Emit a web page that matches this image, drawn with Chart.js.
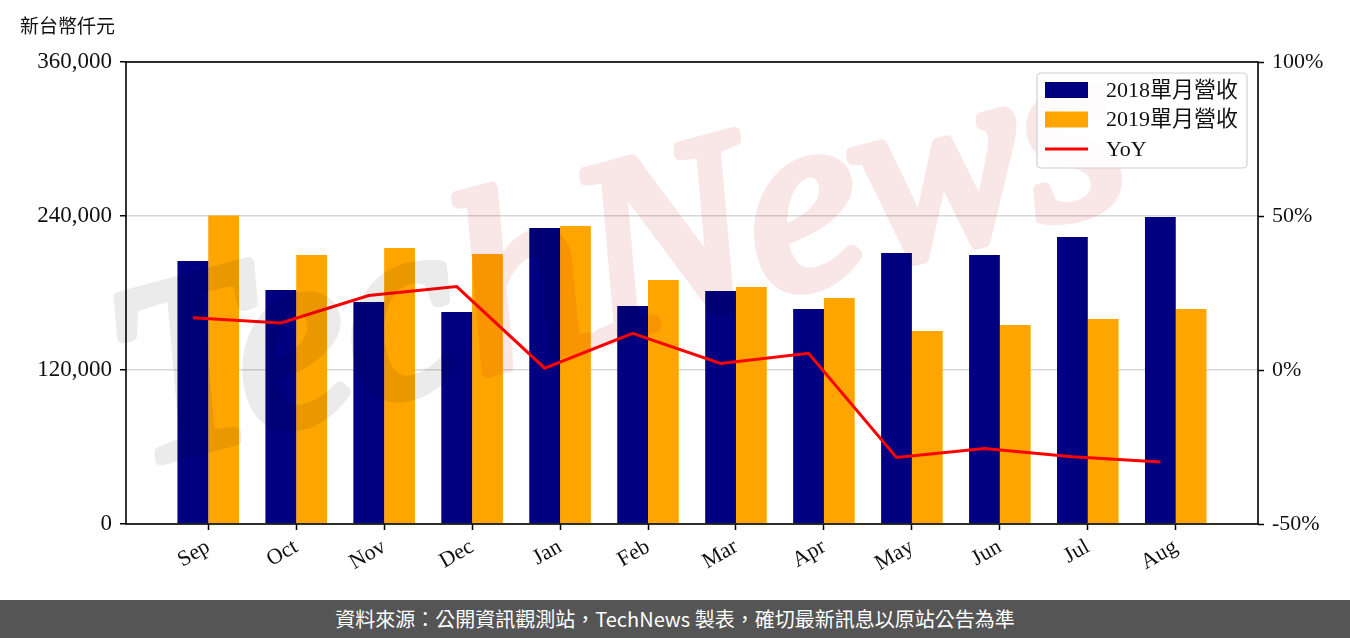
<!DOCTYPE html>
<html>
<head>
<meta charset="utf-8">
<script src="https://cdn.jsdelivr.net/npm/chart.js@4"></script>
<style>
  body { margin: 0; background: #fff; width: 1350px; height: 638px; overflow: hidden; position: relative; }
  #unit { position: absolute; left: 20px; top: 15px; font: 19px "Noto Sans CJK TC", sans-serif; color: #111; line-height: 1; }
  #wrap { position: absolute; left: 0; top: 0; width: 1350px; height: 600px; }
  #footer { position: absolute; left: 0; top: 600px; width: 1350px; height: 38px; background: #555; color: #fff;
            font: 20px "Noto Sans CJK TC", sans-serif; text-align: center; line-height: 38px; }
</style>
</head>
<body>
<div id="wrap"><canvas id="chart" width="1350" height="600"></canvas></div>
<div id="unit">新台幣仟元</div>
<div id="footer">資料來源：公開資訊觀測站，TechNews 製表，確切最新訊息以原站公告為準</div>
<script>
// 月份與數據（新台幣仟元）
const months = ["Sep", "Oct", "Nov", "Dec", "Jan", "Feb", "Mar", "Apr", "May", "Jun", "Jul", "Aug"];
const rev2018 = [204900, 182300, 173000, 165200, 230600, 169900, 181600, 167500, 211200, 209600, 223600, 239200];
const rev2019 = [240300, 209600, 215100, 210400, 232200, 190100, 184700, 176100, 150400, 155100, 159700, 167500];
const yoy = [17.0, 15.3, 24.2, 27.1, 0.6, 11.9, 2.1, 5.4, -28.4, -25.5, -28.2, -29.9];
const leftTicks = [0, 120000, 240000, 360000];
const rightTicks = [-50, 0, 50, 100];

const SERIF = "'Liberation Serif', 'Noto Sans CJK TC', serif";
const BAR_W = 0.35;

const legendItems = [
  { label: "2018單月營收", color: "#000080", kind: "box" },
  { label: "2019單月營收", color: "#ffa500", kind: "box" },
  { label: "YoY", color: "#ff0000", kind: "line" },
];

function watermark(w, h) {
  const off = document.createElement("canvas");
  off.width = w; off.height = h;
  const c = off.getContext("2d");
  c.fillStyle = "#fff";
  c.fillRect(0, 0, w, h);
  c.translate(140, 465);
  c.rotate(-15 * Math.PI / 180);
  c.font = "italic 255px 'Liberation Serif', serif";
  c.lineJoin = "round";
  c.lineWidth = 12;
  c.fillStyle = c.strokeStyle = "#ebebeb";
  c.strokeText("Tec", 0, 0);
  c.fillText("Tec", 0, 0);
  const tw = c.measureText("Tec").width;
  c.fillStyle = c.strokeStyle = "#f9e7e8";
  c.strokeText("hNews", tw + 6, 0);
  c.fillText("hNews", tw + 6, 0);
  return off;
}

const framePlugin = {
  id: "frame",
  afterDatasetsDraw(chart) {
    const { ctx, chartArea: a } = chart;
    // 浮水印 (multiply so it tints the bars under it)
    ctx.save();
    ctx.globalCompositeOperation = "multiply";
    ctx.drawImage(watermark(chart.width, chart.height), 0, 0);
    ctx.restore();

    ctx.save();
    ctx.strokeStyle = "#000";
    ctx.lineWidth = 1.6;
    ctx.strokeRect(a.left, a.top, a.right - a.left, a.bottom - a.top);
    ctx.restore();
  },
  afterDraw(chart) {
    const { ctx } = chart;
    const x0 = 1037, y0 = 73, w = 210, h = 95;
    ctx.save();
    ctx.fillStyle = "rgba(255,255,255,0.85)";
    ctx.strokeStyle = "#d0d0d0";
    ctx.lineWidth = 1.2;
    ctx.beginPath();
    ctx.roundRect(x0, y0, w, h, 4);
    ctx.fill();
    ctx.stroke();
    ctx.font = "22px " + SERIF;
    ctx.textBaseline = "middle";
    legendItems.forEach((it, i) => {
      const cy = 90 + i * 29.5;
      if (it.kind === "box") {
        ctx.fillStyle = it.color;
        ctx.fillRect(1045, cy - 8, 43, 16);
      } else {
        ctx.strokeStyle = it.color;
        ctx.lineWidth = 3;
        ctx.beginPath();
        ctx.moveTo(1045, cy);
        ctx.lineTo(1088, cy);
        ctx.stroke();
      }
      ctx.fillStyle = "#111";
      ctx.fillText(it.label, 1106, cy + 1);
    });
    ctx.restore();
  },
};

new Chart(document.getElementById("chart"), {
  type: "bar",
  data: {
    datasets: [
      {
        type: "line",
        label: "YoY",
        data: yoy.map((v, i) => ({ x: i - BAR_W / 2, y: v })),
        yAxisID: "y1",
        borderColor: "#ff0000",
        borderWidth: 3,
        pointRadius: 0,
        tension: 0,
        order: 0,
      },
      {
        label: "2018單月營收",
        data: rev2018.map((v, i) => ({ x: i, y: v })),
        backgroundColor: "#000080",
        yAxisID: "y",
        order: 1,
      },
      {
        label: "2019單月營收",
        data: rev2019.map((v, i) => ({ x: i, y: v })),
        backgroundColor: "#ffa500",
        yAxisID: "y",
        order: 1,
      },
    ],
  },
  options: {
    responsive: false,
    animation: false,
    categoryPercentage: BAR_W * 2,
    barPercentage: 1.0,
    layout: { padding: { top: 62, left: 0, right: 0, bottom: 0 } },
    plugins: {
      legend: { display: false },
      tooltip: { enabled: false },
    },
    scales: {
      x: {
        type: "linear",
        min: -0.935,
        max: 11.935,
        offset: false,
        afterBuildTicks: (scale) => { scale.ticks = months.map((m, i) => ({ value: i })); },
        afterFit: (scale) => { scale.height = 76; },
        ticks: {
          autoSkip: false,
          minRotation: 30,
          maxRotation: 30,
          padding: 4,
          color: "#111",
          font: { family: SERIF, size: 22 },
          callback: (v) => months[v],
        },
        grid: { drawOnChartArea: false, offset: false, tickColor: "#000", tickLength: 6, tickWidth: 1.5 },
        border: { display: false },
      },
      y: {
        position: "left",
        min: 0,
        max: 360000,
        afterBuildTicks: (scale) => { scale.ticks = leftTicks.map(v => ({ value: v })); },
        afterFit: (scale) => { scale.width = 126; },
        ticks: {
          padding: 8,
          color: "#111",
          font: { family: SERIF, size: 23 },
          callback: (v) => v.toLocaleString("en-US"),
        },
        grid: { color: "#d6d6d6", lineWidth: 1.5, tickColor: "#000", tickLength: 6, tickWidth: 1.5 },
        border: { display: false },
      },
      y1: {
        position: "right",
        min: -50,
        max: 100,
        afterBuildTicks: (scale) => { scale.ticks = rightTicks.map(v => ({ value: v })); },
        afterFit: (scale) => { scale.width = 92; },
        ticks: {
          padding: 8,
          color: "#111",
          font: { family: SERIF, size: 22 },
          callback: (v) => v + "%",
        },
        grid: { drawOnChartArea: false, tickColor: "#000", tickLength: 6, tickWidth: 1.5 },
        border: { display: false },
      },
    },
  },
  plugins: [framePlugin],
});
</script>
</body>
</html>
